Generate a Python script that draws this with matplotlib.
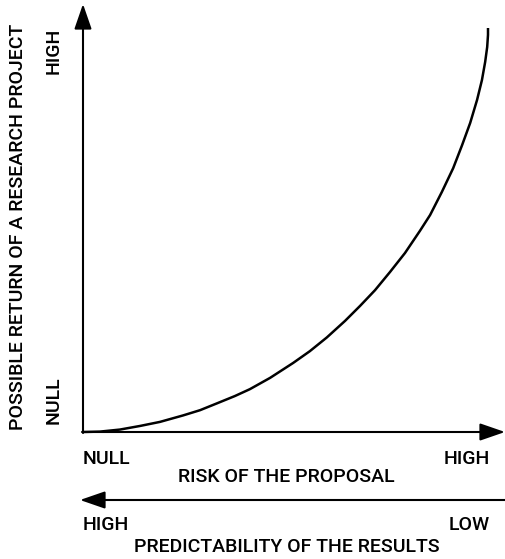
import matplotlib
matplotlib.use("Agg")
import matplotlib.pyplot as plt

plt.rcParams['font.family'] = ['Roboto', 'Liberation Sans', 'DejaVu Sans']
plt.rcParams['font.weight'] = 'medium'

# curve, in percent of the axis range
risk = [0, 4.2, 9.1, 14.1, 19.0, 24.7, 28.9, 33.1, 37.5, 41.2, 46.2, 51.9, 56.0, 60.2, 64.7,
        68.4, 72.1, 75.8, 79.5, 83.2, 85.7, 88.6, 91.4, 93.6, 95.6, 97.3, 98.5, 99.3, 99.8, 100, 100]
ret = [0, 0.1, 0.6, 1.5, 2.5, 4.1, 5.4, 7.1, 8.9, 10.6, 13.4, 17.1, 20.0, 23.4, 27.5,
       31.2, 35.1, 39.6, 44.3, 49.8, 53.7, 59.4, 65.3, 71.0, 76.5, 82.2, 87.1, 91.6, 95.3, 98.3, 100]

y_title = "POSSIBLE RETURN OF A RESEARCH PROJECT"
x_title = "RISK OF THE PROPOSAL"
x2_title = "PREDICTABILITY OF THE RESULTS"
y_ticks = ["NULL", "HIGH"]
x_ticks = ["NULL", "HIGH"]
x2_ticks = ["HIGH", "LOW"]

W, H = 505, 559
fig = plt.figure(figsize=(W / 100, H / 100), dpi=100)

# overlay in pixel coordinates for arrows and labels
ov = fig.add_axes([0, 0, 1, 1])
ov.set_xlim(0, W)
ov.set_ylim(H, 0)
ov.axis('off')

# plotting area: origin at (83, 432), top right of curve at (488, 28)
ox, oy, ex, ey = 83, 432, 488, 28
ax = fig.add_axes([ox / W, 1 - oy / H, (ex - ox) / W, (oy - ey) / H])
ax.set_xlim(0, 100)
ax.set_ylim(0, 100)
ax.axis('off')
ax.plot(risk, ret, color='black', lw=1.8, clip_on=False,
        solid_capstyle='butt', solid_joinstyle='round')

arrow = dict(arrowstyle='-|>,head_length=1.1,head_width=0.38', color='black',
             lw=1.5, mutation_scale=14, shrinkA=0, shrinkB=0)
ov.annotate('', xy=(ox, 4), xytext=(ox, oy + 1), arrowprops=arrow)
ov.annotate('', xy=(505, oy), xytext=(ox - 1, oy), arrowprops=arrow)
ov.annotate('', xy=(80, 500), xytext=(506, 500), arrowprops=arrow)

fs = 14
ov.text(18, 227, y_title, rotation=90, ha='center', va='center', fontsize=fs)
ov.text(54, 400, y_ticks[0], rotation=90, ha='center', va='center', fontsize=fs)
ov.text(54, 51, y_ticks[1], rotation=90, ha='center', va='center', fontsize=fs)

ov.text(83, 459, x_ticks[0], ha='left', va='center', fontsize=fs)
ov.text(490, 459, x_ticks[1], ha='right', va='center', fontsize=fs)
ov.text(286, 477, x_title, ha='center', va='center', fontsize=fs)

ov.text(83, 525, x2_ticks[0], ha='left', va='center', fontsize=fs)
ov.text(490, 525, x2_ticks[1], ha='right', va='center', fontsize=fs)
ov.text(287, 547, x2_title, ha='center', va='center', fontsize=fs)

fig.savefig('out.png', dpi=100)
